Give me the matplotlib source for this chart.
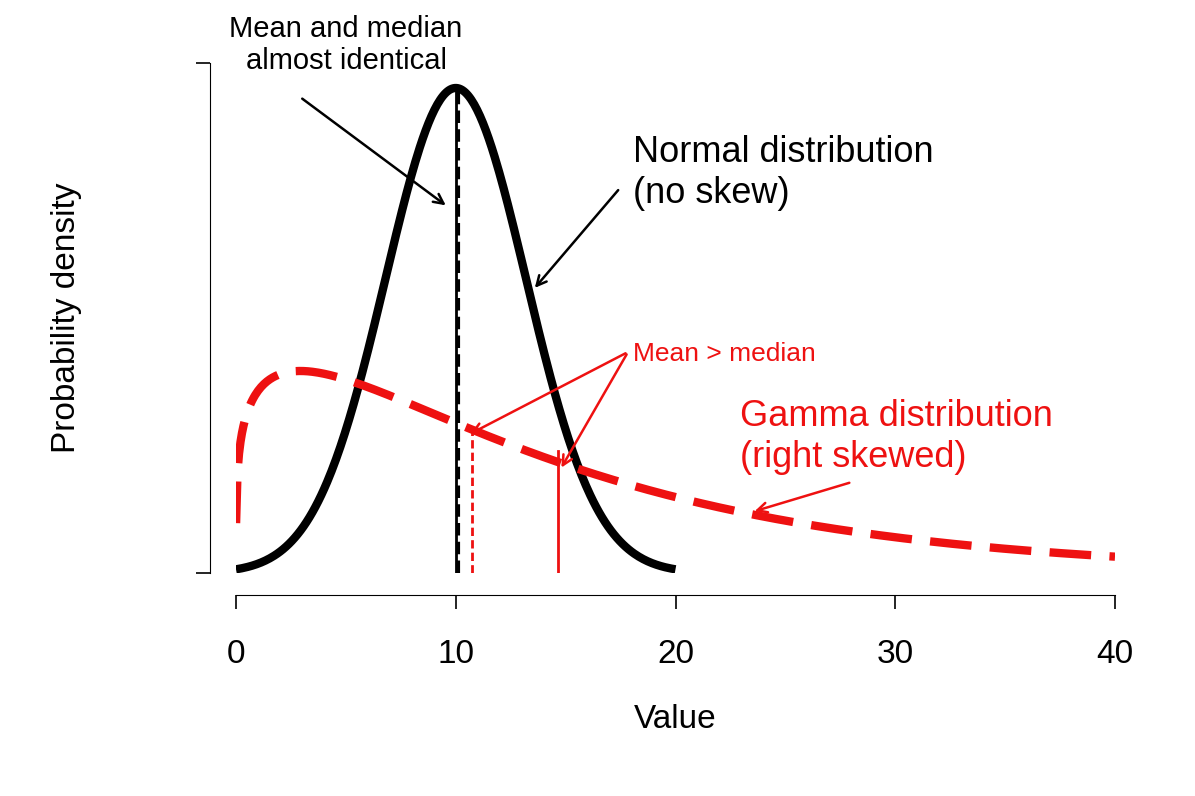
import math
import numpy as np
import matplotlib.pyplot as plt

plt.rcParams['font.family'] = ['Liberation Sans', 'DejaVu Sans']

# distribution parameters
norm_mean, norm_sd = 10.0, 3.2
gam_shape, gam_scale = 1.25, 11.7
gam_mean, gam_median = 14.65, 10.75
xticks = [0, 10, 20, 30, 40]


def norm_pdf(x):
    return np.exp(-0.5 * ((x - norm_mean) / norm_sd) ** 2) / (norm_sd * math.sqrt(2 * math.pi))


def gam_pdf(x):
    return x ** (gam_shape - 1) * np.exp(-x / gam_scale) / (math.gamma(gam_shape) * gam_scale ** gam_shape)


W, H = 1195, 796
fig = plt.figure(figsize=(W / 100, H / 100), dpi=100)
ax = fig.add_axes([236 / W, 1 - 573 / H, (1115 - 236) / W, (573 - 63) / H])

peak = norm_pdf(norm_mean)
ytop = peak * 510 / 485
ax.set_xlim(0, 40)
ax.set_ylim(0, ytop)

xn = np.linspace(0, 20, 300)
ax.plot(xn, norm_pdf(xn), color='black', lw=6, solid_capstyle='butt')
xg = np.linspace(0.004, 40, 600)
ax.plot(xg, gam_pdf(xg), color='#ee1111', lw=6, dashes=(5, 2.2))

ax.plot([10, 10], [0, peak], color='black', lw=2)
ax.plot([10.12, 10.12], [0, peak], color='black', lw=3, ls=(0, (3, 1.5)))
ax.plot([gam_median, gam_median], [0, gam_pdf(gam_median)], color='#ee1111', lw=2, ls=(0, (3, 1.5)))
ax.plot([gam_mean, gam_mean], [0, gam_pdf(gam_mean) * 1.1], color='#ee1111', lw=2)

for s in ['top', 'right']:
    ax.spines[s].set_visible(False)
ax.spines['bottom'].set_position(('outward', 22 * 0.72))
ax.spines['bottom'].set_bounds(0, 40)
ax.spines['left'].set_position(('outward', 26 * 0.72))
ax.spines['left'].set_bounds(0, ytop)
ax.set_xticks(xticks)
ax.set_xticklabels([str(t) for t in xticks], fontsize=24)
ax.set_yticks([0, ytop])
ax.set_yticklabels([])
ax.tick_params(length=10, width=1.2, pad=22)
ax.set_xlabel('Value', fontsize=24, labelpad=24)
ax.set_ylabel('Probability density', fontsize=24, labelpad=60)


def d(px, py):
    return ((px - 236) / 21.975, (573 - py) / 485 * peak)


def arrow(start, end, color, lw=1.8):
    ax.annotate('', xy=d(*end), xytext=d(*start), annotation_clip=False,
                arrowprops=dict(arrowstyle='->,head_length=0.7,head_width=0.35', color=color, lw=lw))


arrow((300, 97), (448, 207), 'black')
arrow((620, 188), (533, 290), 'black')
arrow((628, 352), (468, 435), '#ee1111')
arrow((628, 352), (560, 470), '#ee1111')
arrow((852, 482), (752, 512), '#ee1111')

ax.text(*d(346, 45), 'Mean and median\nalmost identical', fontsize=21, ha='center', va='center',
        linespacing=1.2, clip_on=False)
ax.text(*d(633, 173), 'Normal distribution\n(no skew)', fontsize=26, ha='left', va='center',
        linespacing=1.25, clip_on=False)
ax.text(*d(633, 354), 'Mean > median', fontsize=19, color='#ee1111', ha='left', va='center', clip_on=False)
ax.text(*d(740, 437), 'Gamma distribution\n(right skewed)', fontsize=26, color='#ee1111', ha='left',
        va='center', linespacing=1.25, clip_on=False)

fig.savefig('out.png', dpi=100)
